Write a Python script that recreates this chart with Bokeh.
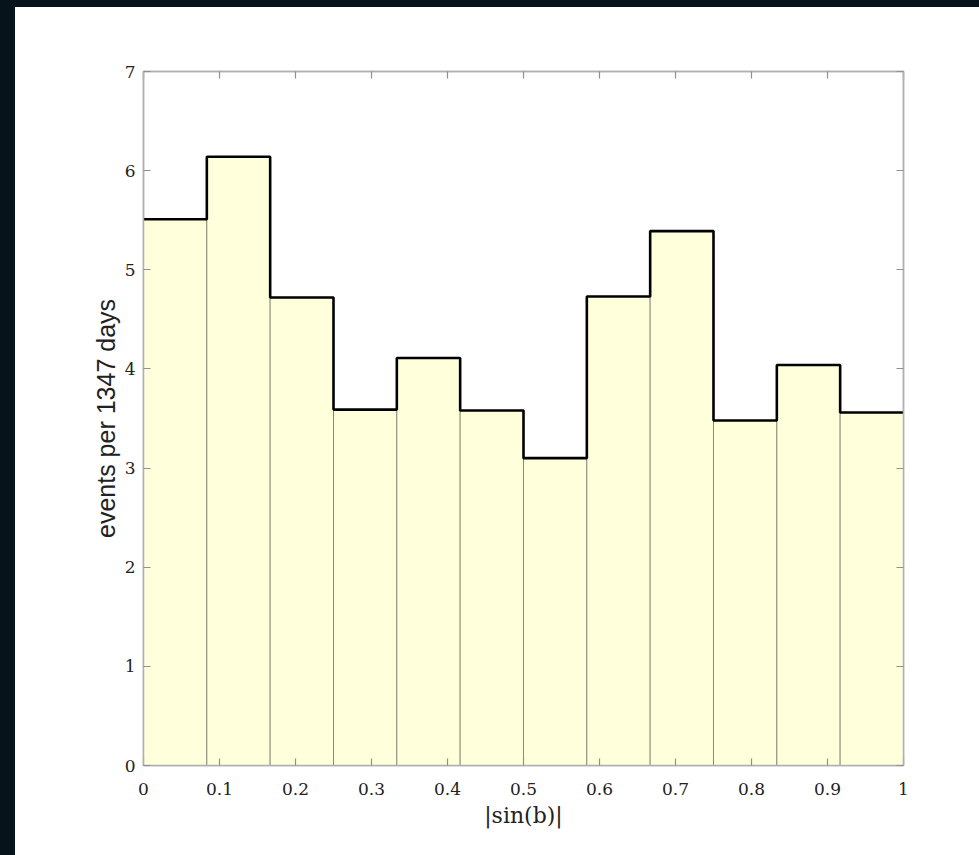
from bokeh.plotting import figure
from bokeh.models import Range1d, LinearAxis, FixedTicker, Spacer
from bokeh.layouts import row, column
from bokeh.embed import file_html
from bokeh.resources import INLINE

# Data: 12 bins of |sin(b)| in [0,1]
bin_edges = [i / 12 for i in range(13)]
counts = [5.51, 6.14, 4.72, 3.59, 4.11, 3.58, 3.10, 4.73, 5.39, 3.48, 4.04, 3.56]
x_ticks = [0, 0.1, 0.2, 0.3, 0.4, 0.5, 0.6, 0.7, 0.8, 0.9, 1]
x_tick_labels = ["0", "0.1", "0.2", "0.3", "0.4", "0.5", "0.6", "0.7", "0.8", "0.9", "1"]
y_ticks = [0, 1, 2, 3, 4, 5, 6, 7]

DARK = "#07131a"
AXIS_GRAY = "#b0b0b0"
TICK_FONT = "DejaVu Serif"

p = figure(width=964, height=848, output_backend="svg", toolbar_location=None,
           x_range=Range1d(0, 1), y_range=Range1d(0, 7),
           min_border_left=128, min_border_right=76, min_border_top=64, min_border_bottom=90,
           background_fill_color="white", border_fill_color="white")
p.outline_line_color = AXIS_GRAY
p.outline_line_width = 1.5
p.xgrid.visible = False
p.ygrid.visible = False

p.quad(left=bin_edges[:-1], right=bin_edges[1:], bottom=0, top=counts,
       fill_color="#FFFFDC", line_color="#7a7a6a", line_width=0.8)
p.step(x=bin_edges, y=counts + [counts[-1]], mode="after", line_color="black", line_width=2.6)

def style_axis(ax, labels=True):
    ax.axis_line_color = AXIS_GRAY
    ax.axis_line_width = 1.5
    ax.major_tick_line_color = "#909090"
    ax.major_tick_line_width = 1.2
    ax.major_tick_in = 7
    ax.major_tick_out = 0
    ax.minor_tick_line_color = None
    ax.major_label_text_font = TICK_FONT
    ax.major_label_text_font_size = "17px"
    ax.major_label_text_color = "#222222"
    if not labels:
        ax.major_label_text_alpha = 0

xa = p.xaxis[0]
xa.ticker = FixedTicker(ticks=x_ticks)
xa.major_label_overrides = {t: l for t, l in zip(x_ticks, x_tick_labels)}
style_axis(xa)
xa.major_label_standoff = 17
xa.axis_label = "|sin(b)|"
xa.axis_label_text_font = "DejaVu Serif"
xa.axis_label_text_font_style = "normal"
xa.axis_label_text_font_size = "22px"
xa.axis_label_standoff = 5
xa.axis_label_text_color = "#222222"

ya = p.yaxis[0]
ya.ticker = FixedTicker(ticks=y_ticks)
style_axis(ya)
ya.major_label_standoff = 8
ya.axis_label = "events per 1347 days"
ya.axis_label_text_font = "Liberation Sans"
ya.axis_label_text_font_style = "normal"
ya.axis_label_text_font_size = "25px"
ya.axis_label_standoff = 2
ya.axis_label_text_color = "#222222"

top = LinearAxis(ticker=FixedTicker(ticks=x_ticks))
style_axis(top, labels=False)
p.add_layout(top, "above")
right = LinearAxis(ticker=FixedTicker(ticks=y_ticks))
style_axis(right, labels=False)
p.add_layout(right, "right")

left_strip = Spacer(width=15, height=855, styles={"background-color": DARK})
top_strip = Spacer(width=964, height=7, styles={"background-color": DARK})
layout = row(left_strip, column(top_strip, p, spacing=0), spacing=0)

open("out.html", "w").write(file_html(layout, INLINE))
